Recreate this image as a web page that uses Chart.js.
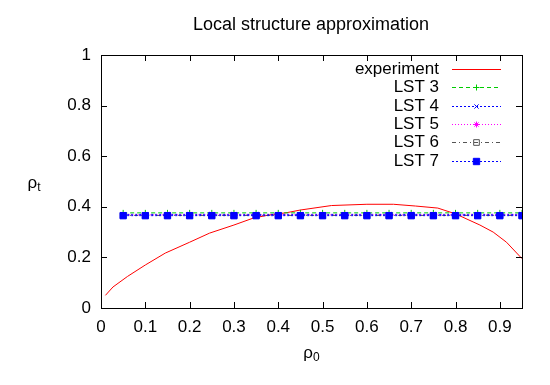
<!DOCTYPE html>
<html>
<head>
<meta charset="utf-8">
<script src="https://cdn.jsdelivr.net/npm/chart.js@4/dist/chart.umd.min.js"></script>
<style>
  html, body { margin: 0; padding: 0; background: #fff; }
  #wrap { width: 550px; height: 385px; }
</style>
</head>
<body>
<div id="wrap"><canvas id="lst-chart"></canvas></div>
<script>
// experiment curve (rho_0, rho_t)
const expX = [0.01, 0.027, 0.06, 0.1, 0.145, 0.2, 0.245, 0.3, 0.343, 0.38, 0.42, 0.449, 0.52, 0.6, 0.66, 0.71, 0.76, 0.8, 0.855, 0.885, 0.915, 0.95];
const expY = [0.05, 0.083, 0.125, 0.17, 0.217, 0.26, 0.296, 0.328, 0.355, 0.368, 0.377, 0.387, 0.405, 0.41, 0.41, 0.403, 0.395, 0.372, 0.328, 0.3, 0.26, 0.195];

// LST approximations, sampled every 0.05
const lstX = [0.05, 0.1, 0.15, 0.2, 0.25, 0.3, 0.35, 0.4, 0.45, 0.5, 0.55, 0.6, 0.65, 0.7, 0.75, 0.8, 0.85, 0.9, 0.95];
const lst3 = [0.376, 0.376, 0.376, 0.376, 0.376, 0.376, 0.376, 0.376, 0.376, 0.376, 0.376, 0.376, 0.376, 0.376, 0.376, 0.376, 0.376, 0.376, 0.376];
const lst4 = [0.370, 0.370, 0.370, 0.370, 0.370, 0.370, 0.370, 0.370, 0.370, 0.370, 0.370, 0.370, 0.370, 0.370, 0.370, 0.370, 0.370, 0.370, 0.370];
const lst5 = [0.368, 0.368, 0.368, 0.368, 0.368, 0.368, 0.368, 0.368, 0.368, 0.368, 0.368, 0.368, 0.368, 0.368, 0.368, 0.368, 0.368, 0.368, 0.368];
const lst6 = [0.366, 0.366, 0.366, 0.366, 0.366, 0.366, 0.366, 0.366, 0.366, 0.366, 0.366, 0.366, 0.366, 0.366, 0.366, 0.366, 0.366, 0.366, 0.366];
const lst7 = [0.365, 0.365, 0.365, 0.365, 0.365, 0.365, 0.365, 0.365, 0.365, 0.365, 0.365, 0.365, 0.365, 0.365, 0.365, 0.365, 0.365, 0.365, 0.365];

const xTicks = [0, 0.1, 0.2, 0.3, 0.4, 0.5, 0.6, 0.7, 0.8, 0.9];
const yTicks = [0, 0.2, 0.4, 0.6, 0.8, 1];

const FONT = '"Liberation Sans", Arial, sans-serif';

const toPoints = (xs, ys) => xs.map((x, i) => ({ x: x, y: ys[i] }));

const lstSet = (label, ys, color, dash, style, filled, radius, order) => ({
    label: label,
    data: toPoints(lstX, ys),
    borderColor: color,
    backgroundColor: filled ? color : 'rgba(0,0,0,0)',
    borderWidth: 1,
    borderDash: dash,
    pointStyle: style,
    pointRadius: radius,
    pointBorderColor: color,
    pointBorderWidth: 1,
    pointBackgroundColor: filled ? color : 'rgba(0,0,0,0)',
    order: order
});

const datasets = [
    {
        label: 'experiment',
        data: toPoints(expX, expY),
        borderColor: '#ff0000',
        borderWidth: 1,
        pointRadius: 0,
        order: 6
    },
    lstSet('LST 3', lst3, '#00cc00', [4, 3], 'cross', false, 3, 5),
    lstSet('LST 4', lst4, '#0000ff', [2, 2], 'crossRot', false, 3, 4),
    lstSet('LST 5', lst5, '#ff00ff', [1, 2], 'star', false, 3, 3),
    lstSet('LST 6', lst6, '#555555', [4, 3, 1, 3], 'rect', false, 4, 2),
    lstSet('LST 7', lst7, '#0000ff', [2, 2], 'rect', true, 4.5, 1)
];

// gnuplot-style frame, inward ticks, titles and key
const gnuplotFrame = {
    id: 'gnuplotFrame',
    afterDatasetsDraw(chart) {
        const ctx = chart.ctx;
        const a = chart.chartArea;
        const xs = chart.scales.x;
        const ys = chart.scales.y;
        ctx.save();
        ctx.strokeStyle = '#000';
        ctx.lineWidth = 1;
        ctx.setLineDash([]);
        ctx.strokeRect(Math.round(a.left) + 0.5, Math.round(a.top) + 0.5,
            Math.round(a.right - a.left), Math.round(a.bottom - a.top));
        ctx.beginPath();
        xTicks.forEach(v => {
            const px = Math.round(xs.getPixelForValue(v)) + 0.5;
            ctx.moveTo(px, a.bottom); ctx.lineTo(px, a.bottom - 6);
            ctx.moveTo(px, a.top); ctx.lineTo(px, a.top + 6);
        });
        yTicks.forEach(v => {
            const py = Math.round(ys.getPixelForValue(v)) + 0.5;
            ctx.moveTo(a.left, py); ctx.lineTo(a.left + 6, py);
            ctx.moveTo(a.right, py); ctx.lineTo(a.right - 6, py);
        });
        ctx.stroke();

        // title
        ctx.fillStyle = '#000';
        ctx.font = '18px ' + FONT;
        ctx.textAlign = 'center';
        ctx.textBaseline = 'middle';
        ctx.fillText('Local structure approximation', 311, 25);

        // axis titles with subscripts
        const subLabel = (base, sub, x, y) => {
            ctx.font = '17px ' + FONT;
            ctx.textAlign = 'left';
            const w = ctx.measureText(base).width;
            ctx.font = '12px ' + FONT;
            const w2 = ctx.measureText(sub).width;
            const x0 = x - (w + w2) / 2;
            ctx.font = '17px ' + FONT;
            ctx.fillText(base, x0, y);
            ctx.font = '12px ' + FONT;
            ctx.fillText(sub, x0 + w, y + 5);
        };
        subLabel('ρ', 't', 34, 183);
        subLabel('ρ', '0', (a.left + a.right) / 2, 353);

        // key
        const keyRight = 439, lineL = 452, lineR = 501;
        chart.data.datasets.forEach((ds, i) => {
            const meta = chart.getDatasetMeta(i);
            const lineOpt = meta.dataset.options;
            const ptOpt = meta.data[0].options;
            const y = Math.round(69 + i * 18.3);
            ctx.font = '17px ' + FONT;
            ctx.textAlign = 'right';
            ctx.fillStyle = '#000';
            ctx.fillText(ds.label, keyRight, y);
            ctx.strokeStyle = lineOpt.borderColor;
            ctx.lineWidth = 1;
            ctx.setLineDash(lineOpt.borderDash || []);
            ctx.beginPath();
            ctx.moveTo(lineL, y + 0.5);
            ctx.lineTo(lineR, y + 0.5);
            ctx.stroke();
            ctx.setLineDash([]);
            if (ptOpt.radius > 0) {
                ctx.strokeStyle = ptOpt.borderColor;
                ctx.fillStyle = ptOpt.backgroundColor;
                Chart.helpers.drawPoint(ctx, {
                    pointStyle: ptOpt.pointStyle,
                    radius: ptOpt.radius,
                    rotation: 0,
                    borderWidth: 1
                }, (lineL + lineR) / 2, y + 0.5);
            }
        });
        ctx.restore();
    }
};

new Chart(document.getElementById('lst-chart'), {
    type: 'line',
    data: { datasets: datasets },
    options: {
        responsive: true,
        maintainAspectRatio: false,
        animation: false,
        devicePixelRatio: 1,
        layout: { padding: { top: 55, right: 28, left: 0, bottom: 0 } },
        elements: { line: { tension: 0, fill: false } },
        scales: {
            x: {
                type: 'linear',
                min: 0,
                max: 0.95,
                afterFit: s => { s.height = 77; },
                afterBuildTicks: s => { s.ticks = xTicks.map(v => ({ value: v })); },
                grid: { display: false, drawTicks: false },
                border: { display: false },
                ticks: {
                    color: '#000',
                    padding: 9,
                    maxRotation: 0,
                    callback: v => String(v),
                    font: { family: FONT, size: 17 }
                }
            },
            y: {
                type: 'linear',
                min: 0,
                max: 1,
                afterFit: s => { s.width = 101; },
                afterBuildTicks: s => { s.ticks = yTicks.map(v => ({ value: v })); },
                grid: { display: false, drawTicks: false },
                border: { display: false },
                ticks: {
                    color: '#000',
                    padding: 10,
                    callback: v => String(v),
                    font: { family: FONT, size: 17 }
                }
            }
        },
        plugins: {
            legend: { display: false },
            title: { display: false },
            tooltip: { enabled: false }
        }
    },
    plugins: [gnuplotFrame]
});
</script>
</body>
</html>
